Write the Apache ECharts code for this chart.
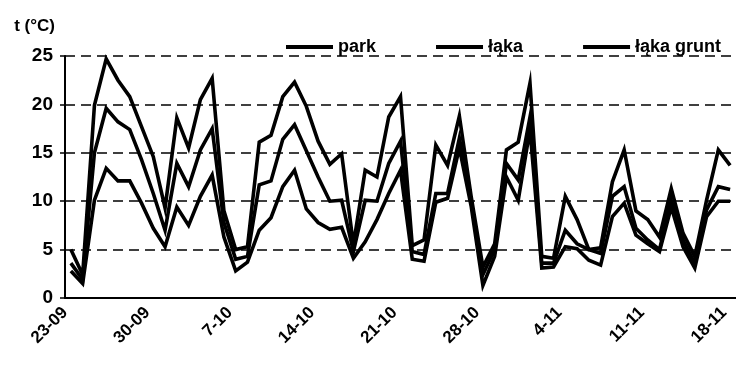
<!DOCTYPE html>
<html>
<head>
<meta charset="utf-8">
<script src="https://cdn.jsdelivr.net/npm/echarts@6/dist/echarts.min.js"></script>
<style>
  html, body { margin: 0; padding: 0; background: #fff; }
  #chart { width: 736px; height: 367px; }
</style>
</head>
<body>
<div id="chart"></div>
<script>
// Daily dates, 23 September to 18 November (plus the closing boundary date)
const startDay = 23, startMonth = 9;
const monthLengths = { 9: 30, 10: 31, 11: 30 };
const dayCount = 57;

const boundaryDates = [];
(function () {
  let d = startDay, m = startMonth;
  for (let i = 0; i <= dayCount; i++) {
    boundaryDates.push(d + '-' + (m < 10 ? '0' + m : String(m)));
    d++;
    if (d > monthLengths[m]) { d = 1; m++; }
  }
})();
const categories = boundaryDates.slice(0, dayCount);

const seriesNames = ['park', 'łąka', 'łąka grunt'];

// Daily temperatures (°C)
const parkTemp = [
  2.8, 1.5, 10.1, 13.4, 12.1, 12.1, 9.8, 7.2, 5.3, 9.4,
  7.5, 10.5, 12.7, 6.3, 2.8, 3.7, 7.0, 8.3, 11.5, 13.2,
  9.2, 7.8, 7.1, 7.3, 4.1, 5.8, 8.1, 10.8, 13.2, 4.0,
  3.8, 9.9, 10.3, 15.5, 9.5, 1.3, 4.3, 12.5, 10.1, 17.4,
  3.1, 3.2, 5.3, 5.1, 3.9, 3.4, 8.4, 9.8, 6.5, 5.6,
  4.8, 9.4, 5.3, 3.1, 8.4, 10.0, 10.0
];
const lakaTemp = [
  3.6, 1.9, 15.0, 19.6, 18.2, 17.4, 14.3, 10.8, 7.0, 13.9,
  11.5, 15.3, 17.5, 7.8, 4.0, 4.3, 11.7, 12.1, 16.4, 17.9,
  15.2, 12.5, 10.0, 10.1, 4.8, 10.1, 10.0, 13.9, 16.2, 4.8,
  4.5, 10.8, 10.8, 16.5, 10.0, 2.4, 5.0, 13.9, 12.2, 18.7,
  3.6, 3.6, 7.0, 5.6, 5.0, 4.6, 10.5, 11.5, 7.2, 6.0,
  5.0, 10.1, 6.0, 3.6, 9.1, 11.5, 11.2
];
const lakaGruntTemp = [
  5.0, 2.4, 19.9, 24.7, 22.5, 20.8, 17.7, 14.6, 9.3, 18.6,
  15.5, 20.5, 22.7, 9.0, 5.0, 5.3, 16.1, 16.8, 20.8, 22.3,
  19.8, 16.2, 13.8, 14.9, 5.5, 13.2, 12.5, 18.7, 20.8, 5.4,
  6.0, 15.8, 13.7, 18.8, 10.5, 3.2, 5.6, 15.3, 16.1, 22.2,
  4.3, 4.1, 10.5, 8.1, 5.0, 5.2, 12.0, 15.3, 9.0, 8.1,
  6.3, 11.3, 6.7, 4.3, 10.1, 15.3, 13.7
];

const yTicks = { min: 0, max: 25, step: 5 };

const FONT = 'Liberation Sans, Arial, sans-serif';
const INK = '#000';

function lineSeries(name, data) {
  return {
    name: name,
    type: 'line',
    xAxisIndex: 0,
    data: data,
    symbol: 'none',
    lineStyle: { color: INK, width: 3.6, join: 'miter' },
    itemStyle: { color: INK }
  };
}

const chart = echarts.init(document.getElementById('chart'), null, { renderer: 'canvas' });
chart.setOption({
  animation: false,
  backgroundColor: '#fff',
  grid: { left: 65, top: 56, right: -7, bottom: 69, containLabel: false },
  legend: {
    data: seriesNames,
    left: 281,
    top: 33,
    icon: 'rect',
    itemWidth: 47,
    itemHeight: 4,
    itemGap: 60,
    textStyle: { fontFamily: FONT, fontSize: 18, fontWeight: 'bold', color: INK }
  },
  xAxis: [
    {
      // daily categories: points sit between the weekly tick marks
      type: 'category',
      data: categories,
      boundaryGap: true,
      position: 'bottom',
      axisLine: { lineStyle: { color: INK, width: 2 } },
      axisTick: { interval: 6, length: 5, lineStyle: { color: INK, width: 1.5 } },
      axisLabel: { show: false },
      splitLine: { show: false }
    },
    {
      // weekly date labels placed on the tick marks
      type: 'category',
      data: boundaryDates,
      boundaryGap: false,
      position: 'bottom',
      axisLine: { show: false },
      axisTick: { show: false },
      axisLabel: {
        interval: 6,
        rotate: 45,
        margin: 12,
        fontFamily: FONT,
        fontSize: 17,
        fontWeight: 'bold',
        color: INK
      },
      splitLine: { show: false }
    }
  ],
  yAxis: {
    type: 'value',
    min: yTicks.min,
    max: yTicks.max,
    interval: yTicks.step,
    name: 't (°C)',
    nameLocation: 'end',
    nameGap: 21,
    nameTextStyle: {
      fontFamily: FONT, fontSize: 17, fontWeight: 'bold', color: INK,
      align: 'right', padding: [0, 10, 0, 0]
    },
    axisLine: { show: true, lineStyle: { color: INK, width: 2 } },
    axisTick: { show: true, length: 5, lineStyle: { color: INK, width: 1.5 } },
    axisLabel: { margin: 12, fontFamily: FONT, fontSize: 19, fontWeight: 'bold', color: INK },
    splitLine: { show: true, lineStyle: { color: INK, width: 1.5, type: [10, 6] } }
  },
  series: [
    lineSeries(seriesNames[0], parkTemp),
    lineSeries(seriesNames[1], lakaTemp),
    lineSeries(seriesNames[2], lakaGruntTemp)
  ]
});
</script>
</body>
</html>
